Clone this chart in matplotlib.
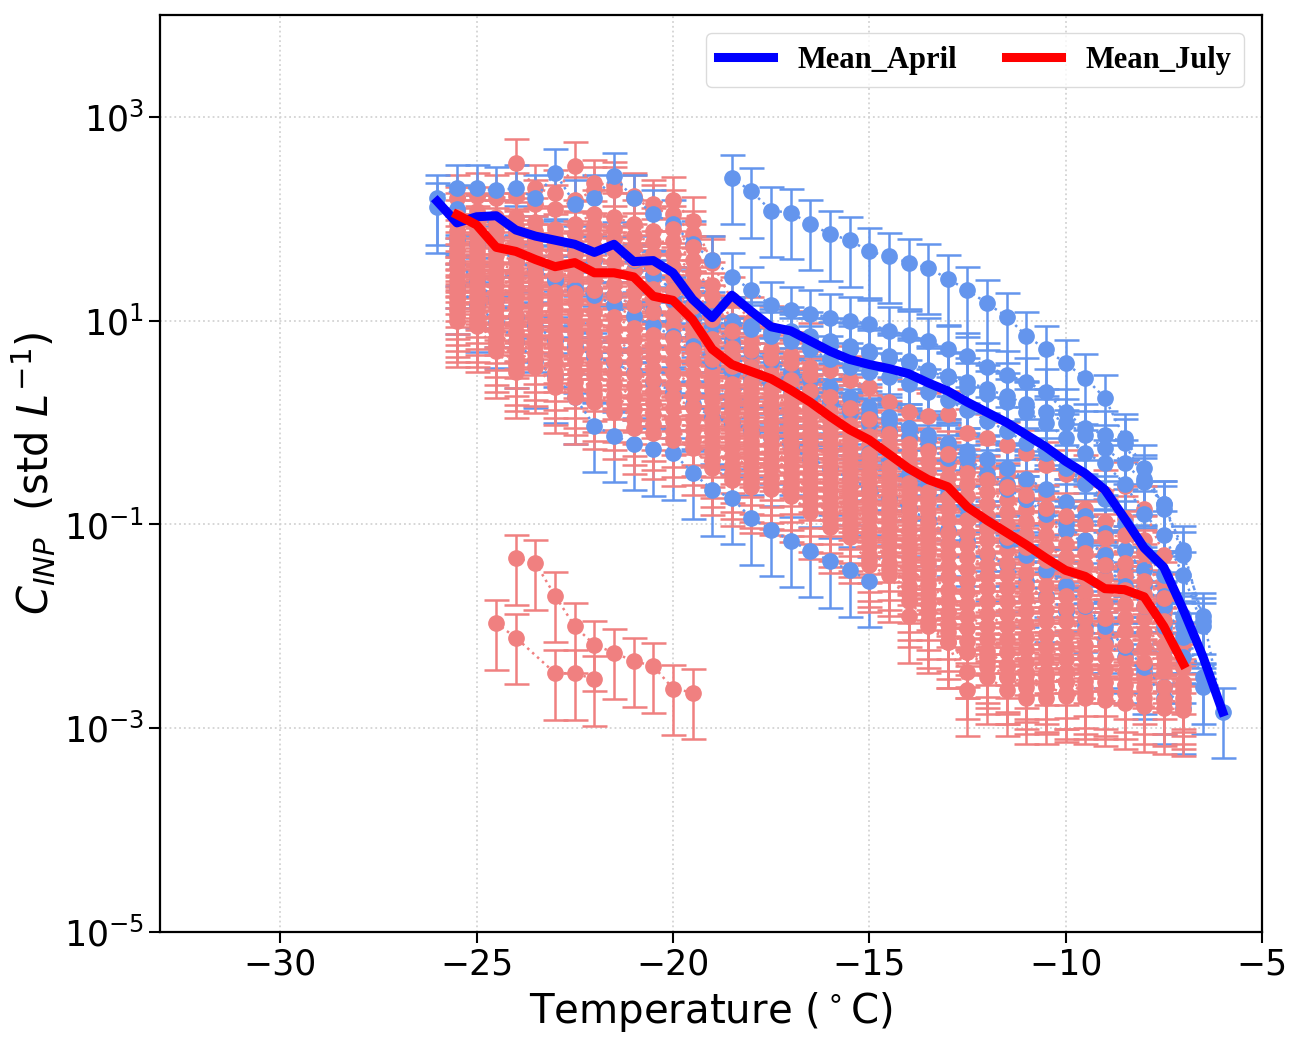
import numpy as np
import matplotlib.pyplot as plt

# log10 of C_INP (std L^-1) for each sample
# every sample is measured in 0.5 degC steps starting at its start temperature
april_start = [-18.5, -25.5, -26.0, -26.0, -25.5, -25.5, -17.0, -20.0, -15.0, -21.0, -23.0]
april_logs = [
    [2.40, 2.27, 2.08, 2.06, 1.95, 1.85, 1.79, 1.68, 1.63, 1.57, 1.52, 1.41, 1.30, 1.17, 1.04, 0.85,
     0.72, 0.58, 0.44, 0.24, -0.15, -0.45, -0.85],
    [1.33, 1.15, 0.99, 0.80, 0.60, 0.45, 0.25, -0.03, -0.13, -0.21, -0.26, -0.30, -0.49, -0.66, -0.74,
     -0.94, -1.05, -1.16, -1.26, -1.36, -1.45, -1.55],
    [2.20, 2.30, 2.30, 2.28, 2.30, 2.20, 2.45, 2.15, 2.20, 2.42, 2.20, 2.05, 1.95, 1.75, 1.60, 1.43,
     1.30, 1.15, 1.10, 1.07, 1.03, 1.00, 0.97, 0.90, 0.86, 0.80, 0.72, 0.65, 0.55, 0.47, 0.40, 0.30,
     0.10, -0.05, -0.12, -0.20, -0.55, -0.80, -1.30, -1.90, -2.84],
    [2.12, 2.10, 2.00, 1.95, 1.90, 1.80, 1.75, 1.70, 1.60, 1.70, 1.50, 1.45, 1.30, 1.10, 0.95, 1.00,
     0.95, 0.85, 0.80, 0.72, 0.62, 0.55, 0.50, 0.45, 0.38, 0.30, 0.22, 0.12, 0.02, -0.08, -0.20, -0.30,
     -0.45, -0.60, -0.75, -1.00, -1.25, -1.50, -1.90, -2.60],
    [1.80, 1.75, 1.70, 1.60, 1.50, 1.40, 1.35, 1.30, 1.25, 1.15, 1.10, 1.00, 0.85, 0.70, 0.65, 0.55,
     0.45, 0.40, 0.30, 0.20, 0.10, 0.00, -0.08, -0.15, -0.25, -0.35, -0.45, -0.55, -0.65, -0.75, -0.85,
     -1.00, -1.15, -1.30, -1.45, -1.60, -1.80, -2.10, -2.50],
    [1.58, 1.38, 1.20, 1.05, 0.95, 0.81, 0.75, 0.65, 0.58, 0.50, 0.40, 0.30, 0.18, 0.05, 0.00, -0.08,
     -0.15, -0.25, -0.35, -0.45, -0.55, -0.65, -0.75, -0.85, -0.95, -1.05, -1.15, -1.30, -1.40, -1.55,
     -1.70, -1.85, -2.00, -2.15, -2.30, -2.45, -2.70],
    [0.90, 0.85, 0.80, 0.75, 0.70, 0.65, 0.60, 0.50, 0.45, 0.35, 0.28, 0.20, 0.10, 0.00, -0.15, -0.30,
     -0.40, -0.60, -0.90, -1.10, -1.50, -2.00],
    [1.20, 1.05, 0.95, 0.80, 0.70, 0.60, 0.50, 0.42, 0.35, 0.25, 0.15, 0.05, -0.05, -0.15, -0.25, -0.35,
     -0.50, -0.60, -0.75, -0.90, -1.05, -1.20, -1.40, -1.60, -1.80, -2.00, -2.30],
    [-0.30, -0.40, -0.50, -0.60, -0.70, -0.85, -1.00, -1.15, -1.30, -1.45, -1.60, -1.80, -2.00, -2.20,
     -2.40, -2.60, -2.80],
    [1.60, 1.45, 1.30, 1.15, 1.05, 0.98, 0.92, 0.88, 0.84, 0.80, 0.76, 0.72, 0.68, 0.63, 0.58, 0.52,
     0.46, 0.40, 0.33, 0.26, 0.18, 0.10, 0.00, -0.12, -0.25, -0.40, -0.58, -0.80, -1.25, -1.95],
    [1.40, 1.30, 1.25, 1.15, 1.05, 0.95, 0.85, 0.75, 0.60, 0.50, 0.42, 0.36, 0.30, 0.25, 0.20, 0.14,
     0.08, 0.02, -0.05, -0.12, -0.20, -0.28, -0.36, -0.45, -0.55, -0.65, -0.78, -0.92, -1.08, -1.25,
     -1.45, -1.70, -2.00],
]

july_start = [-25.5, -24.0, -25.5, -25.5, -25.5, -25.5, -25.5, -25.5, -25.5, -25.5, -25.5, -25.5,
              -14.0, -25.5, -25.5, -25.5, -25.5, -25.5, -25.5, -25.5, -25.5, -25.5, -12.0]
july_logs = [
    [2.20, 2.22, 2.20, 2.22, 2.15, 2.10, 2.18, 2.28, 2.28, 2.22, 2.15, 2.18, 1.98, 1.57, 1.20, 1.00,
     0.91, 0.86, 0.75, 0.52, 0.42, 0.35, 0.20, 0.10, 0.06, 0.08, -0.10, -0.15, -0.22, -0.30, -0.42,
     -0.50, -0.55, -0.70, -0.62, -0.85, -1.30, -2.20],
    [2.55, 2.30, 2.25, 2.52, 2.35, 2.33, 2.20, 2.10, 2.05, 1.85, 1.60],
    [2.08, 2.08, 2.02, 2.02, 1.97, 1.90, 1.95, 2.05, 2.02, 1.95, 1.88, 1.90, 1.72, 1.35, 1.00, 0.80,
     0.72, 0.66, 0.55, 0.33, 0.22, 0.12, -0.02, -0.12, -0.18, -0.20, -0.38, -0.44, -0.50, -0.58, -0.70,
     -0.78, -0.85, -0.98, -0.95, -1.15, -1.60, -2.40],
    [1.95, 1.95, 1.88, 1.85, 1.80, 1.72, 1.75, 1.83, 1.80, 1.72, 1.65, 1.65, 1.48, 1.12, 0.82, 0.62,
     0.55, 0.50, 0.40, 0.18, 0.06, -0.05, -0.20, -0.30, -0.38, -0.42, -0.60, -0.68, -0.76, -0.85, -0.98,
     -1.06, -1.15, -1.28, -1.25, -1.42, -1.85, -2.55],
    [1.82, 1.82, 1.72, 1.68, 1.63, 1.55, 1.55, 1.62, 1.58, 1.50, 1.42, 1.42, 1.26, 0.92, 0.65, 0.47,
     0.40, 0.35, 0.23, 0.02, -0.10, -0.22, -0.35, -0.50, -0.58, -0.63, -0.85, -0.92, -1.00, -1.10, -1.22,
     -1.32, -1.40, -1.52, -1.50, -1.68, -2.05, -2.62],
    [1.70, 1.68, 1.56, 1.50, 1.47, 1.37, 1.37, 1.41, 1.36, 1.27, 1.20, 1.18, 1.03, 0.72, 0.47, 0.32,
     0.25, 0.20, 0.07, -0.13, -0.25, -0.40, -0.52, -0.68, -0.78, -0.85, -1.08, -1.15, -1.25, -1.35, -1.48,
     -1.58, -1.66, -1.78, -1.78, -1.92, -2.30],
    [1.58, 1.55, 1.42, 1.33, 1.32, 1.20, 1.18, 1.20, 1.15, 1.04, 0.98, 0.95, 0.82, 0.52, 0.30, 0.15,
     0.10, 0.04, -0.10, -0.28, -0.40, -0.58, -0.68, -0.86, -0.98, -1.08, -1.32, -1.40, -1.50, -1.60, -1.72,
     -1.82, -1.92, -2.05, -2.05, -2.20, -2.45],
    [1.45, 1.42, 1.27, 1.15, 1.15, 1.02, 0.98, 0.98, 0.93, 0.82, 0.75, 0.72, 0.60, 0.32, 0.12, -0.02,
     -0.06, -0.12, -0.26, -0.43, -0.55, -0.76, -0.85, -1.05, -1.18, -1.30, -1.55, -1.62, -1.75, -1.85,
     -1.95, -2.08, -2.18, -2.30, -2.32, -2.50],
    [1.33, 1.30, 1.12, 0.98, 1.00, 0.84, 0.79, 0.78, 0.71, 0.59, 0.53, 0.49, 0.38, 0.12, -0.06, -0.18,
     -0.22, -0.28, -0.42, -0.58, -0.70, -0.94, -1.02, -1.24, -1.38, -1.52, -1.78, -1.88, -2.00, -2.10,
     -2.20, -2.32, -2.42, -2.55, -2.58],
    [1.22, 1.18, 0.97, 0.80, 0.83, 0.67, 0.60, 0.57, 0.49, 0.36, 0.30, 0.25, 0.15, -0.08, -0.24, -0.35,
     -0.37, -0.44, -0.58, -0.74, -0.85, -1.12, -1.20, -1.42, -1.58, -1.75, -2.02, -2.12, -2.25, -2.35,
     -2.45, -2.55, -2.65],
    [1.10, 1.05, 0.82, 0.63, 0.68, 0.50, 0.40, 0.36, 0.27, 0.13, 0.08, 0.02, -0.07, -0.28, -0.42, -0.52,
     -0.53, -0.60, -0.74, -0.90, -1.00, -1.30, -1.38, -1.60, -1.78, -1.98, -2.25, -2.35, -2.50, -2.60,
     -2.70],
    [1.00, 0.95, 0.70, 0.50, 0.55, 0.35, 0.25, 0.20, 0.10, -0.05, -0.10, -0.17, -0.25, -0.45, -0.56,
     -0.63, -0.65, -0.72, -0.88, -1.02, -1.12, -1.40, -1.50, -1.75, -1.95, -2.15, -2.62],
    [-1.90, -2.00, -2.15, -2.25, -2.40, -2.50, -2.55, -2.60, -2.65, -2.70, -2.72, -2.75, -2.78, -2.80,
     -2.82],
    [2.02, 2.00, 1.95, 1.93, 1.88, 1.82, 1.85, 1.94, 1.90, 1.83, 1.77, 1.78, 1.60, 1.24, 0.90, 0.71,
     0.63, 0.58, 0.47, 0.25, 0.14, 0.04, -0.11, -0.21, -0.28, -0.31, -0.49, -0.56, -0.63, -0.71, -0.84,
     -0.92, -1.00, -1.13, -1.10, -1.28, -1.72],
    [1.88, 1.90, 1.80, 1.76, 1.72, 1.63, 1.65, 1.72, 1.69, 1.61, 1.53, 1.53, 1.37, 1.02, 0.73, 0.55,
     0.47, 0.42, 0.31, 0.10, -0.02, -0.13, -0.27, -0.40, -0.48, -0.53, -0.72, -0.80, -0.88, -0.97, -1.10,
     -1.19, -1.28, -1.40, -1.38, -1.55, -1.95, -2.58],
    [1.76, 1.75, 1.64, 1.59, 1.55, 1.46, 1.46, 1.51, 1.47, 1.38, 1.31, 1.30, 1.14, 0.82, 0.56, 0.40,
     0.33, 0.27, 0.15, -0.05, -0.17, -0.31, -0.44, -0.59, -0.68, -0.74, -0.96, -1.04, -1.12, -1.22, -1.35,
     -1.45, -1.53, -1.65, -1.64, -1.80, -2.18],
    [1.64, 1.62, 1.49, 1.42, 1.40, 1.28, 1.27, 1.30, 1.25, 1.15, 1.09, 1.06, 0.92, 0.62, 0.38, 0.23,
     0.17, 0.12, -0.02, -0.20, -0.32, -0.49, -0.60, -0.77, -0.88, -0.96, -1.20, -1.28, -1.38, -1.48, -1.60,
     -1.70, -1.79, -1.92, -1.92, -2.06, -2.38, -2.70],
    [1.52, 1.48, 1.35, 1.24, 1.23, 1.11, 1.08, 1.09, 1.04, 0.93, 0.86, 0.83, 0.71, 0.42, 0.21, 0.06,
     0.02, -0.04, -0.18, -0.36, -0.48, -0.67, -0.77, -0.95, -1.08, -1.19, -1.44, -1.51, -1.62, -1.72,
     -1.84, -1.95, -2.05, -2.18, -2.18, -2.35, -2.60],
    [1.39, 1.36, 1.20, 1.06, 1.08, 0.93, 0.88, 0.88, 0.82, 0.70, 0.64, 0.60, 0.49, 0.22, 0.03, -0.10,
     -0.14, -0.20, -0.34, -0.50, -0.62, -0.85, -0.94, -1.15, -1.28, -1.41, -1.66, -1.75, -1.88, -1.98,
     -2.08, -2.20, -2.30, -2.42, -2.45, -2.60],
    [1.28, 1.24, 1.04, 0.89, 0.92, 0.76, 0.70, 0.68, 0.60, 0.48, 0.42, 0.37, 0.27, 0.02, -0.15, -0.27,
     -0.30, -0.36, -0.50, -0.66, -0.78, -1.03, -1.11, -1.33, -1.48, -1.64, -1.90, -2.00, -2.12, -2.22,
     -2.32, -2.44, -2.54, -2.65],
    [1.16, 1.12, 0.90, 0.72, 0.76, 0.58, 0.50, 0.47, 0.38, 0.25, 0.19, 0.14, 0.04, -0.18, -0.33, -0.44,
     -0.45, -0.52, -0.66, -0.82, -0.92, -1.21, -1.29, -1.51, -1.68, -1.86, -2.14, -2.24, -2.38, -2.48,
     -2.58, -2.68],
    [1.05, 1.00, 0.76, 0.57, 0.62, 0.43, 0.33, 0.28, 0.19, 0.04, -0.01, -0.08, -0.16, -0.37, -0.49,
     -0.58, -0.59, -0.66, -0.81, -0.96, -1.06, -1.35, -1.44, -1.68, -1.86, -2.06, -2.45, -2.50, -2.62,
     -2.70],
    [-2.30, -2.40, -2.45, -2.50, -2.55, -2.60, -2.62, -2.65, -2.70, -2.72, -2.75],
]

# the two low July samples (lower left group)
low_july_a_temp = [-24.0, -23.5, -23.0, -22.5, -22.0, -21.5, -21.0, -20.5, -20.0, -19.5]
low_july_a_log = [-1.33, -1.38, -1.70, -2.00, -2.18, -2.26, -2.34, -2.39, -2.61, -2.65]
low_july_b_temp = [-24.5, -24.0, -23.0, -22.5, -22.0]
low_july_b_log = [-1.97, -2.11, -2.46, -2.46, -2.52]

# monthly means (log10)
april_mean_start = -26.0
april_mean_log = [2.17, 1.96, 2.02, 2.03, 1.89, 1.83, 1.79, 1.75, 1.67, 1.75, 1.58, 1.59, 1.47, 1.21,
                  1.03, 1.25, 1.09, 0.94, 0.90, 0.80, 0.70, 0.62, 0.57, 0.53, 0.48, 0.39, 0.31, 0.20,
                  0.10, 0.00, -0.12, -0.24, -0.38, -0.50, -0.66, -0.94, -1.23, -1.42, -1.84, -2.30, -2.84]
july_mean_start = -25.5
july_mean_log = [2.04, 1.94, 1.72, 1.68, 1.60, 1.53, 1.57, 1.47, 1.47, 1.43, 1.24, 1.20, 1.01, 0.72,
                 0.57, 0.50, 0.43, 0.32, 0.20, 0.06, -0.07, -0.17, -0.31, -0.45, -0.56, -0.63, -0.83,
                 -0.96, -1.08, -1.20, -1.33, -1.45, -1.51, -1.63, -1.64, -1.71, -2.00, -2.37]

# relative uncertainty of each point (lower, upper)
ERR_LO = 0.65
ERR_HI = 0.7

APRIL_COLOR = 'cornflowerblue'
JULY_COLOR = 'lightcoral'


def temps(start, n):
    return start + 0.5 * np.arange(n)


def draw_sample(ax, t, logs, color):
    c = 10.0 ** np.asarray(logs)
    ax.errorbar(t, c, yerr=[c * ERR_LO, c * ERR_HI], fmt='o:', color=color, ms=11, lw=1.8,
                elinewidth=1.8, capsize=9, capthick=1.8)


fig = plt.figure(figsize=(12.91, 10.43), dpi=100)
ax = fig.add_axes([0.124, 0.1064, 0.8535, 0.8792])

# interleave the two months so neither hides the other completely
for i in range(max(len(april_logs), len(july_logs))):
    if i < len(april_logs):
        draw_sample(ax, temps(april_start[i], len(april_logs[i])), april_logs[i], APRIL_COLOR)
    if i < len(july_logs):
        draw_sample(ax, temps(july_start[i], len(july_logs[i])), july_logs[i], JULY_COLOR)
draw_sample(ax, low_july_a_temp, low_july_a_log, JULY_COLOR)
draw_sample(ax, low_july_b_temp, low_july_b_log, JULY_COLOR)

ax.plot(temps(april_mean_start, len(april_mean_log)), 10.0 ** np.array(april_mean_log),
        color='blue', lw=6.5, label='Mean_April', zorder=10)
ax.plot(temps(july_mean_start, len(july_mean_log)), 10.0 ** np.array(july_mean_log),
        color='red', lw=6.5, label='Mean_July', zorder=10)

ax.set_yscale('log')
ax.set_ylim(1e-5, 1e4)
ax.set_xlim(-33.06, -5)
ax.set_yticks([1e-5, 1e-3, 1e-1, 1e1, 1e3])
ax.yaxis.set_minor_locator(plt.NullLocator())
ax.set_xticks([-30, -25, -20, -15, -10, -5])
ax.tick_params(labelsize=25, length=8, width=1.5)
ax.grid(True, ls=':', color='lightgray', lw=1.3)
for s in ax.spines.values():
    s.set_linewidth(1.6)

ax.set_xlabel(r'Temperature ($^\circ$C)', fontsize=29, labelpad=6)
ax.set_ylabel(r'$C_{INP}$  (std $L^{-1}$)', fontsize=30)

ax.legend(loc='upper right', ncol=2, prop={'family': 'Liberation Serif', 'weight': 'bold', 'size': 22},
          handlelength=1.8, columnspacing=1.6, edgecolor='lightgray', borderaxespad=0.6)

fig.savefig('out.png', dpi=100)
